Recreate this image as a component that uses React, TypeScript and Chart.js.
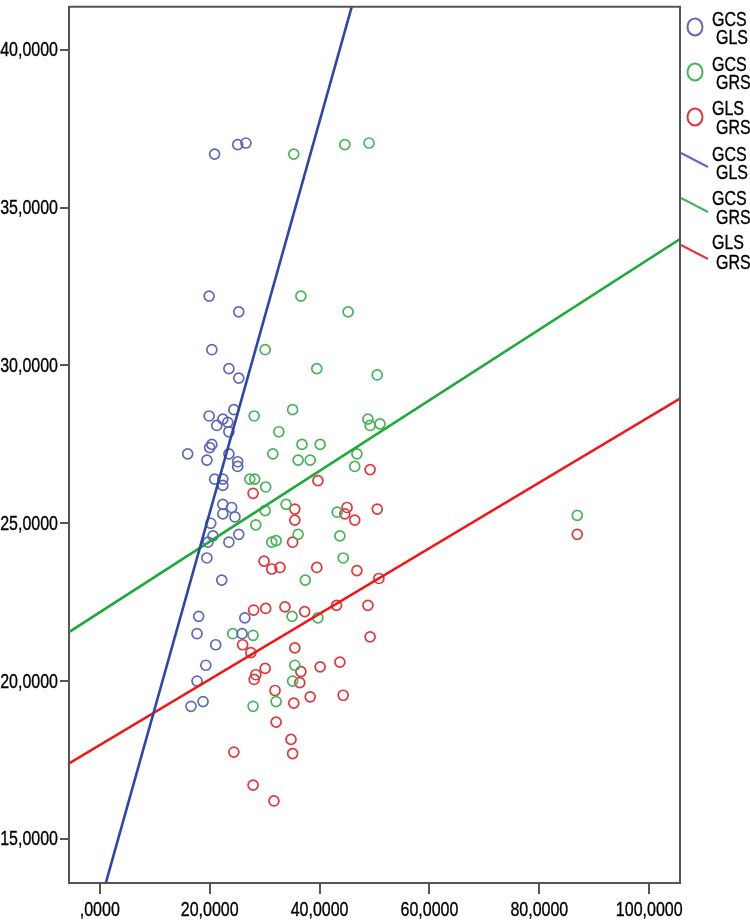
import React, { useEffect, useRef } from 'react';
import { Chart, registerables } from 'chart.js';

Chart.register(...registerables);

// ---- axes ----
const xTicks = [0, 20, 40, 60, 80, 100];
const yTicks = [15, 20, 25, 30, 35, 40];
const xRange = [-5.6, 105.6];
const yRange = [13.6, 41.37];

// ---- series labels ----
const seriesNames = [['GCS', 'GLS'], ['GCS', 'GRS'], ['GLS', 'GRS']];

// ---- GCS vs GLS (blue) ----
const gcsGlsX = [20.9, 25.1, 26.6, 19.9, 25.3, 20.4, 23.5, 25.3, 24.4, 19.9, 22.4, 21.3, 23.3, 23.5, 20.4, 20.0, 16.0, 19.5, 23.5, 25.1, 25.1, 20.9, 22.4, 22.4, 22.4, 24.0, 22.4, 24.6, 20.2, 20.6, 19.7, 23.5, 25.3, 19.5, 22.2, 18.0, 26.4, 17.7, 25.9, 21.1, 19.3, 17.7, 18.8, 16.6];
const gcsGlsY = [36.7, 37.0, 37.05, 32.2, 31.7, 30.5, 29.9, 29.6, 28.6, 28.4, 28.3, 28.1, 28.2, 27.9, 27.5, 27.4, 27.2, 27.0, 27.2, 26.95, 26.8, 26.4, 26.4, 26.2, 25.6, 25.5, 25.3, 25.2, 25.0, 24.6, 24.4, 24.4, 24.65, 23.9, 23.2, 22.05, 22.0, 21.5, 21.5, 21.15, 20.5, 20.0, 19.35, 19.2];

// ---- GCS vs GRS (green) ----
const gcsGrsX = [35.3, 44.6, 49.0, 36.6, 45.2, 30.1, 39.5, 50.5, 28.1, 35.1, 48.8, 49.2, 51.0, 32.6, 36.8, 40.1, 31.5, 36.1, 38.3, 46.8, 46.4, 27.3, 28.2, 30.2, 33.9, 30.1, 28.4, 43.2, 36.1, 43.7, 31.3, 32.1, 44.3, 37.4, 35.0, 39.7, 24.2, 27.9, 35.5, 35.1, 27.9, 32.1, 86.9];
const gcsGrsY = [36.7, 37.0, 37.05, 32.2, 31.7, 30.5, 29.9, 29.7, 28.4, 28.6, 28.3, 28.1, 28.15, 27.9, 27.5, 27.5, 27.2, 27.0, 27.0, 27.2, 26.8, 26.4, 26.4, 26.15, 25.6, 25.4, 24.95, 25.35, 24.65, 24.6, 24.4, 24.45, 23.9, 23.2, 22.05, 22.0, 21.5, 21.45, 20.5, 20.0, 19.2, 19.35, 25.25];

// ---- GLS vs GRS (red) ----
const glsGrsX = [49.2, 39.7, 27.9, 35.5, 35.5, 45.0, 44.6, 46.4, 50.5, 35.1, 29.9, 31.3, 32.8, 39.5, 46.8, 50.8, 28.0, 30.2, 33.7, 37.3, 43.1, 48.8, 49.2, 26.0, 27.5, 35.5, 30.1, 28.4, 28.1, 36.6, 36.4, 40.1, 43.7, 31.9, 38.3, 44.3, 35.3, 32.1, 34.8, 35.1, 24.4, 27.9, 31.7, 86.9];
const glsGrsY = [26.7, 26.35, 25.95, 25.45, 25.1, 25.5, 25.3, 25.1, 25.45, 24.4, 23.8, 23.55, 23.6, 23.6, 23.5, 23.25, 22.25, 22.3, 22.35, 22.2, 22.4, 22.4, 21.4, 21.15, 20.9, 21.05, 20.4, 20.2, 20.05, 20.3, 19.95, 20.45, 20.6, 19.7, 19.5, 19.55, 19.3, 18.7, 18.15, 17.7, 17.75, 16.7, 16.2, 24.65];

// ---- linear fit lines (intercept, slope) ----
const fitIntercepts = [12.92, 22.18, 17.97];
const fitSlopes = [0.6204, 0.112, 0.104];

const pointColors = ['rgb(95,105,185)', 'rgb(70,180,90)', 'rgb(225,55,60)'];
const lineColors = ['rgb(45,70,170)', 'rgb(30,170,55)', 'rgb(245,20,20)'];

const FONT = "20px 'Liberation Sans', Arial, sans-serif";
const NARROW = 0.8;
const AXIS_COLOR = '#555555';

const fmt = (v: number) => (v === 0 ? '' : String(v)) + ',0000';

const toPts = (xs: number[], ys: number[]) => xs.map((x, i) => ({ x, y: ys[i] }));

function narrowText(ctx: CanvasRenderingContext2D, text: string, x: number, y: number, align: CanvasTextAlign) {
  ctx.save();
  ctx.translate(x, y);
  ctx.scale(NARROW, 1);
  ctx.textAlign = align;
  ctx.fillText(text, 0, 0);
  ctx.lineWidth = 0.35;
  ctx.strokeStyle = '#000';
  ctx.strokeText(text, 0, 0);
  ctx.restore();
}

const legendPlugin = {
  id: 'customLegendFrame',
  afterDraw(chart: any) {
    const { ctx, chartArea } = chart;
    const xs = chart.scales.x;
    const ys = chart.scales.y;
    ctx.save();
    // frame (top and right)
    ctx.strokeStyle = AXIS_COLOR;
    ctx.lineWidth = 2;
    ctx.beginPath();
    ctx.moveTo(chartArea.left, chartArea.top);
    ctx.lineTo(chartArea.right, chartArea.top);
    ctx.lineTo(chartArea.right, chartArea.bottom);
    ctx.stroke();

    ctx.font = FONT;
    ctx.fillStyle = '#000';
    ctx.textBaseline = 'middle';

    // tick labels (narrow face)
    xTicks.forEach((v) => narrowText(ctx, fmt(v), xs.getPixelForValue(v), 910, 'center'));
    yTicks.forEach((v) => narrowText(ctx, fmt(v), 58, ys.getPixelForValue(v) + 1, 'right'));

    // legend
    const markerY = [27, 72, 117];
    const markerText = [[20, 38], [65, 83], [109.5, 128]];
    const lineY = [160, 205, 252];
    const lineText = [[155, 173], [199, 218], [243, 263]];
    for (let i = 0; i < 3; i++) {
      ctx.strokeStyle = pointColors[i];
      ctx.lineWidth = 2;
      ctx.beginPath();
      ctx.ellipse(695, markerY[i], 7.5, 8.5, 0, 0, Math.PI * 2);
      ctx.stroke();
      narrowText(ctx, seriesNames[i][0], 712, markerText[i][0], 'left');
      narrowText(ctx, seriesNames[i][1], 716, markerText[i][1], 'left');

      ctx.strokeStyle = pointColors[i];
      ctx.lineWidth = 2;
      ctx.beginPath();
      ctx.moveTo(681, lineY[i] - 7);
      ctx.lineTo(708, lineY[i] + 7);
      ctx.stroke();
      narrowText(ctx, seriesNames[i][0], 712, lineText[i][0], 'left');
      narrowText(ctx, seriesNames[i][1], 716, lineText[i][1], 'left');
    }
    ctx.restore();
  },
};

export default function App() {
  const canvasRef = useRef<HTMLCanvasElement | null>(null);

  useEffect(() => {
    if (!canvasRef.current) return;
    const scatterSets = [
      toPts(gcsGlsX, gcsGlsY),
      toPts(gcsGrsX, gcsGrsY),
      toPts(glsGrsX, glsGrsY),
    ].map((data, i) => ({
      label: seriesNames[i].join(' '),
      data,
      showLine: false,
      pointStyle: 'circle',
      pointRadius: 5,
      pointBorderWidth: 1.7,
      pointBackgroundColor: 'rgba(0,0,0,0)',
      pointBorderColor: pointColors[i],
      borderColor: pointColors[i],
      backgroundColor: 'rgba(0,0,0,0)',
      order: 2,
    }));
    const lineSets = fitIntercepts.map((a, i) => ({
      label: seriesNames[i].join(' ') + ' fit',
      data: xRange.map((x) => ({ x, y: a + fitSlopes[i] * x })),
      showLine: true,
      pointRadius: 0,
      borderWidth: 2.6,
      borderColor: lineColors[i],
      backgroundColor: lineColors[i],
      clip: 0,
      order: 1,
    }));

    const tickFont = { family: "'Liberation Sans', sans-serif", size: 19 };

    const chart = new Chart(canvasRef.current, {
      type: 'scatter',
      data: { datasets: [...scatterSets, ...lineSets] as any },
      options: {
        animation: false,
        responsive: false,
        layout: { padding: { top: 3, right: 70, left: 0, bottom: 0 } },
        plugins: { legend: { display: false }, tooltip: { enabled: false } },
        scales: {
          x: {
            type: 'linear',
            min: xRange[0],
            max: xRange[1],
            afterBuildTicks: (s: any) => {
              s.ticks = xTicks.map((v) => ({ value: v }));
            },
            afterFit: (s: any) => {
              s.height = 39;
              s.paddingLeft = 0;
              s.paddingRight = 0;
            },
            ticks: {
              font: tickFont,
              color: 'rgba(0,0,0,0)',
              padding: 3,
              maxRotation: 0,
              autoSkip: false,
              callback: (v: any) => fmt(Number(v)),
            },
            grid: { drawOnChartArea: false, drawTicks: true, tickLength: 11, color: AXIS_COLOR, lineWidth: 2 },
            border: { display: true, color: AXIS_COLOR, width: 2 },
          },
          y: {
            type: 'linear',
            min: yRange[0],
            max: yRange[1],
            afterBuildTicks: (s: any) => {
              s.ticks = yTicks.map((v) => ({ value: v }));
            },
            afterFit: (s: any) => {
              s.width = 69;
              s.paddingTop = 0;
              s.paddingBottom = 0;
            },
            ticks: {
              font: tickFont,
              color: 'rgba(0,0,0,0)',
              padding: 2,
              autoSkip: false,
              callback: (v: any) => fmt(Number(v)),
            },
            grid: { drawOnChartArea: false, drawTicks: true, tickLength: 9, color: AXIS_COLOR, lineWidth: 2 },
            border: { display: true, color: AXIS_COLOR, width: 2 },
          },
        },
      } as any,
      plugins: [legendPlugin],
    });
    return () => chart.destroy();
  }, []);

  return (
    <div style={{ position: 'absolute', left: 0, top: 0, width: 750, height: 922, background: '#fff' }}>
      <canvas ref={canvasRef} width={750} height={922} style={{ display: 'block' }} />
    </div>
  );
}
